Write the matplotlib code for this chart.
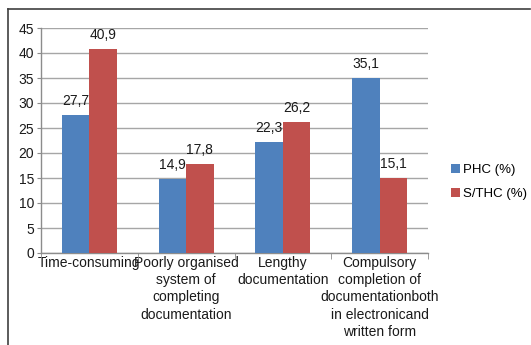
import matplotlib
matplotlib.use("Agg")
import matplotlib.pyplot as plt
from matplotlib.lines import Line2D
from matplotlib.patches import Patch
import numpy as np

plt.rcParams['font.family'] = ['Liberation Sans', 'DejaVu Sans']

categories = [
    "Time-consuming",
    "Poorly organised\nsystem of\ncompleting\ndocumentation",
    "Lengthy\ndocumentation",
    "Compulsory\ncompletion of\ndocumentationboth\nin electronicand\nwritten form",
]
series_names = ["PHC (%)", "S/THC (%)"]
phc = [27.7, 14.9, 22.3, 35.1]
sthc = [40.9, 17.8, 26.2, 15.1]
colors = ["#4F81BD", "#C0504D"]

W, H = 531, 345
fig = plt.figure(figsize=(W / 100, H / 100), dpi=100)
ax = fig.add_axes([41 / W, 1 - 253 / H, (428 - 41) / W, (253 - 28) / H])

x = np.arange(len(categories))
bw = 0.285
fs = 10
for vals, off, c in [(phc, -bw / 2, colors[0]), (sthc, bw / 2, colors[1])]:
    bars = ax.bar(x + off, vals, bw, color=c, zorder=3)
    for b, v in zip(bars, vals):
        ax.annotate(f"{v:.1f}".replace(".", ","),
                    (b.get_x() + b.get_width() / 2, v),
                    xytext=(0, 5), textcoords="offset points",
                    ha="center", va="bottom", fontsize=fs, color="#1a1a1a")

ax.set_xlim(-0.5, len(categories) - 0.5)
ax.set_ylim(0, 45)
ax.set_yticks(np.arange(0, 46, 5))
ax.yaxis.grid(True, color="#a6a6a6", linewidth=1.0, zorder=0)
ax.set_axisbelow(True)
for s in ["top", "right"]:
    ax.spines[s].set_visible(False)
for s in ["left", "bottom"]:
    ax.spines[s].set_color("#8c8c8c")
    ax.spines[s].set_linewidth(1.0)

ax.set_xticks(x)
ax.set_xticklabels(categories, fontsize=fs, linespacing=1.3, color="#1a1a1a")
ax.tick_params(axis="x", which="major", length=0, pad=2)
ax.set_xticks(np.arange(-0.5, len(categories), 1), minor=True)
ax.tick_params(axis="x", which="minor", length=4, color="#8c8c8c")
ax.tick_params(axis="y", length=3, color="#8c8c8c", pad=2, labelsize=fs,
               labelcolor="#1a1a1a")

handles = [Patch(facecolor=c, edgecolor="none") for c in colors]
fig.legend(handles, series_names, loc="center left",
           bbox_to_anchor=(444 / W, 1 - 182 / H), frameon=False,
           fontsize=9.5, handlelength=0.7, handleheight=0.7,
           handletextpad=0.25, labelspacing=0.85, borderpad=0)

# outer frame: top and left edges
fig.add_artist(Line2D([8 / W, 530 / W], [1 - 9 / H, 1 - 9 / H],
                      color="#404040", linewidth=1.2))
fig.add_artist(Line2D([8 / W, 8 / W], [1 - 9 / H, 0],
                      color="#404040", linewidth=1.2))

fig.savefig("out.png", dpi=100)
